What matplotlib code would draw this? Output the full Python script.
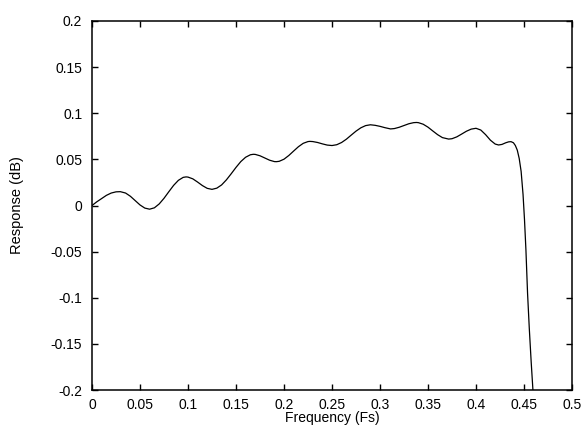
import matplotlib
matplotlib.use("Agg")
import matplotlib.pyplot as plt

plt.rcParams['font.family'] = ['Liberation Sans', 'DejaVu Sans']

# passband ripple and transition edge of the filter response
freq = [0.000, 0.005, 0.010, 0.015, 0.020, 0.025, 0.0295,
        0.035, 0.040, 0.045, 0.050, 0.055, 0.060,
        0.065, 0.070, 0.075, 0.080, 0.085, 0.090, 0.095, 0.098,
        0.100, 0.105, 0.110, 0.115, 0.120, 0.125,
        0.130, 0.135, 0.140, 0.145, 0.150, 0.155, 0.160, 0.165, 0.168,
        0.170, 0.175, 0.180, 0.185, 0.190, 0.192,
        0.195, 0.200, 0.205, 0.210, 0.215, 0.220, 0.225, 0.227,
        0.230, 0.235, 0.240, 0.245, 0.250,
        0.255, 0.260, 0.265, 0.270, 0.275, 0.280, 0.285, 0.290,
        0.295, 0.300, 0.305, 0.311,
        0.315, 0.320, 0.325, 0.330, 0.335, 0.338,
        0.340, 0.345, 0.350, 0.355, 0.360, 0.365, 0.3715,
        0.375, 0.380, 0.385, 0.390, 0.395, 0.400,
        0.405, 0.410, 0.415, 0.420, 0.4235,
        0.427, 0.431, 0.434, 0.4365,
        0.439, 0.441, 0.443, 0.445, 0.447, 0.449, 0.4505, 0.452,
        0.4537, 0.4555, 0.4575, 0.4593, 0.461]
resp = [0.0000, 0.0040, 0.0075, 0.0110, 0.0135, 0.0148, 0.0150,
        0.0135, 0.0100, 0.0053, 0.0006, -0.0028, -0.0040,
        -0.0025, 0.0017, 0.0078, 0.0149, 0.0218, 0.0273, 0.0305, 0.0310,
        0.0308, 0.0289, 0.0254, 0.0216, 0.0186, 0.0175,
        0.0188, 0.0223, 0.0278, 0.0344, 0.0413, 0.0476, 0.0523, 0.0550, 0.0555,
        0.0554, 0.0539, 0.0515, 0.0491, 0.0476, 0.0475,
        0.0479, 0.0502, 0.0542, 0.0590, 0.0637, 0.0674, 0.0693, 0.0695,
        0.0693, 0.0683, 0.0668, 0.0655, 0.0650,
        0.0659, 0.0683, 0.0719, 0.0763, 0.0806, 0.0842, 0.0866, 0.0875,
        0.0869, 0.0858, 0.0844, 0.0830,
        0.0834, 0.0848, 0.0867, 0.0886, 0.0898, 0.0900,
        0.0898, 0.0881, 0.0849, 0.0808, 0.0768, 0.0736, 0.0720,
        0.0724, 0.0744, 0.0774, 0.0805, 0.0828, 0.0837,
        0.0818, 0.0768, 0.0708, 0.0666, 0.0656,
        0.0662, 0.0680, 0.0690, 0.0692,
        0.0680, 0.0650, 0.0600, 0.0510, 0.0370, 0.0120, -0.0150, -0.0480,
        -0.0950, -0.1330, -0.1700, -0.2000, -0.2350]

xticks = [0, 0.05, 0.1, 0.15, 0.2, 0.25, 0.3, 0.35, 0.4, 0.45, 0.5]
xticklabels = ['0', '0.05', '0.1', '0.15', '0.2', '0.25', '0.3', '0.35', '0.4', '0.45', '0.5']
yticks = [-0.2, -0.15, -0.1, -0.05, 0, 0.05, 0.1, 0.15, 0.2]
yticklabels = ['-0.2', '-0.15', '-0.1', '-0.05', '0', '0.05', '0.1', '0.15', '0.2']

fig = plt.figure(figsize=(5.82, 4.26), dpi=100)
ax = fig.add_axes([92 / 582, 36 / 426, 480 / 582, 369 / 426])

ax.plot(freq, resp, color='black', lw=0.9)

ax.set_xlim(0, 0.5)
ax.set_ylim(-0.2, 0.2)
ax.set_xticks(xticks)
ax.set_xticklabels(xticklabels)
ax.set_yticks(yticks)
ax.set_yticklabels(yticklabels)
ax.tick_params(direction='in', length=4, width=1, top=True, right=True,
               labelsize=10)
ax.tick_params(axis='x', pad=5.5)
ax.tick_params(axis='y', pad=7)
for s in ax.spines.values():
    s.set_linewidth(1.1)

ax.set_xlabel('Frequency (Fs)', fontsize=10)
ax.set_ylabel('Response (dB)', fontsize=10.5)
ax.xaxis.set_label_coords(0.5, -0.058)
ax.yaxis.set_label_coords(-0.142, 0.5)

fig.savefig('out.png', dpi=100)
